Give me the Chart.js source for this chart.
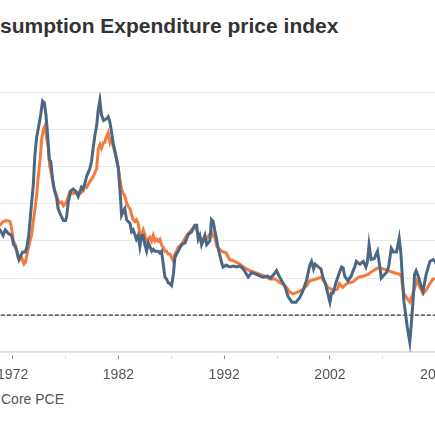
<!DOCTYPE html>
<html>
<head>
<meta charset="utf-8">
<script src="https://cdn.jsdelivr.net/npm/chart.js@4"></script>
<style>
  html, body { margin: 0; padding: 0; width: 435px; height: 435px; overflow: hidden; background: #fff; }
  body { position: relative; font-family: "Liberation Sans", Arial, sans-serif; }
  #title { position: absolute; left: 0; top: 15px; font-size: 21px; line-height: 21px; font-weight: bold; color: #333; white-space: nowrap; }
  #legend { position: absolute; left: 1px; top: 392px; font-size: 14px; line-height: 14px; color: #555; white-space: nowrap; }
  .before { position: absolute; right: 100%; top: 0; white-space: nowrap; }
  .swatch { display: inline-block; width: 18px; height: 3px; vertical-align: middle; margin: 0 6px 0 14px; }
  #wrap { position: absolute; left: -100px; top: 0; width: 635px; height: 435px; }
</style>
</head>
<body>
<div id="title"><span class="before">Personal Con</span>sumption Expenditure price index</div>
<div id="legend"><span class="before"><span class="swatch" style="background:#4b6784"></span>PCE<span class="swatch" style="background:#f47b3c"></span></span>Core PCE</div>
<div id="wrap"><canvas id="myChart"></canvas></div>
<script>
// year-over-year % change
const headlineYears = [1970.5, 1970.8, 1971.1, 1971.3, 1971.6, 1971.9, 1972.1, 1972.25, 1972.4, 1972.6, 1972.75, 1972.95,
  1973.2, 1973.35, 1973.5, 1973.64, 1973.8, 1973.95, 1974.1, 1974.27, 1974.5, 1974.65, 1974.83, 1975.0,
  1975.15, 1975.3, 1975.46, 1975.6, 1975.78, 1975.93, 1976.16, 1976.3, 1976.47, 1976.63, 1976.8, 1977.0,
  1977.1, 1977.26, 1977.5, 1977.73, 1978.0, 1978.2, 1978.35, 1978.5, 1978.65, 1978.83, 1979.0, 1979.15,
  1979.3, 1979.46, 1979.6, 1979.78, 1979.94, 1980.1, 1980.25, 1980.4, 1980.6, 1980.88, 1981.04, 1981.2,
  1981.36, 1981.5, 1981.67, 1981.83, 1982.0, 1982.14, 1982.3, 1982.45, 1982.6, 1982.77, 1982.93, 1983.1,
  1983.25, 1983.4, 1983.56, 1983.7, 1983.87, 1984.03, 1984.2, 1984.35, 1984.5, 1984.67, 1984.83, 1984.98,
  1985.15, 1985.3, 1985.45, 1985.6, 1985.76, 1985.92, 1986.08, 1986.24, 1986.4, 1986.55, 1986.7, 1986.87,
  1987.03, 1987.2, 1987.34, 1987.5, 1987.65, 1987.97, 1988.3, 1988.6, 1988.92, 1989.23, 1989.4, 1989.55,
  1989.7, 1989.86, 1990.18, 1990.35, 1990.65, 1990.8, 1990.96, 1991.1, 1991.25, 1991.4, 1991.75, 1991.9,
  1992.2, 1992.5, 1992.85, 1993.2, 1993.5, 1993.8, 1994.27, 1994.6, 1995.06, 1995.4, 1995.7, 1996.1,
  1996.4, 1996.7, 1996.95, 1997.2, 1997.6, 1997.8, 1998.05, 1998.4, 1998.8, 1999.15, 1999.47, 1999.8,
  2000.1, 2000.26, 2000.45, 2000.6, 2000.9, 2001.15, 2001.36, 2001.55, 2001.7, 2002.0, 2002.15, 2002.3,
  2002.45, 2002.6, 2002.9, 2003.1, 2003.25, 2003.4, 2003.7, 2004.0, 2004.2, 2004.35, 2004.5, 2004.7,
  2004.85, 2005.15, 2005.4, 2005.55, 2005.7, 2005.9, 2006.2, 2006.5, 2006.7, 2006.85, 2007.0, 2007.35,
  2007.55, 2007.8, 2008.0, 2008.3, 2008.55, 2008.7, 2008.9, 2009.0, 2009.15, 2009.3, 2009.55, 2009.7,
  2009.9, 2010.0, 2010.15, 2010.35, 2010.5, 2010.65, 2010.8, 2011.1, 2011.45, 2011.75, 2011.95, 2012.2];
const headlineValues = [4.7, 4.6, 4.3, 4.6, 4.4, 4.3, 3.8, 3.7, 3.45, 3.0, 3.2, 3.4,
  3.4, 3.7, 4.2, 5.05, 6.1, 7.0, 8.6, 9.6, 10.3, 10.8, 11.55, 11.45,
  10.8, 9.8, 8.4, 8.3, 7.35, 6.8, 6.3, 5.75, 5.5, 5.3, 5.1, 5.1,
  5.3, 6.1, 6.7, 6.8, 6.65, 6.4, 6.65, 6.9, 6.8, 7.1, 7.5, 7.7,
  7.9, 8.3, 8.95, 9.7, 10.2, 11.1, 11.6, 10.8, 10.5, 10.6, 10.7, 10.4,
  9.85, 9.3, 8.85, 8.4, 7.9, 6.8, 5.4, 5.6, 5.75, 5.15, 5.05, 4.95,
  4.5, 4.6, 4.35, 4.1, 4.3, 3.7, 4.3, 4.3, 3.8, 3.45, 3.9, 3.7,
  3.45, 3.55, 3.45, 3.45, 3.45, 3.35, 3.45, 2.75, 2.05, 1.95, 1.75, 1.7,
  1.6, 2.2, 3.1, 3.3, 3.45, 3.8, 3.9, 4.35, 4.5, 4.85, 4.85, 4.1,
  4.3, 3.8, 4.3, 3.8, 4.0, 5.15, 5.05, 4.6, 4.2, 3.7, 2.85, 2.6,
  2.7, 2.6, 2.65, 2.6, 2.65, 2.5, 2.05, 2.3, 2.2, 2.1, 2.05, 2.1,
  2.0, 2.2, 2.4, 2.1, 1.7, 1.45, 1.0, 0.7, 0.7, 0.95, 1.35, 1.9,
  2.7, 2.9, 2.5, 2.75, 2.6, 2.5, 2.0, 1.75, 1.4, 0.7, 1.2, 1.2,
  1.5, 1.8, 2.3, 2.6, 2.55, 2.1, 1.85, 2.1, 2.4, 2.6, 2.9, 2.8,
  2.75, 2.9, 2.6, 2.9, 3.8, 3.0, 3.05, 3.45, 2.7, 2.0, 2.1, 2.3,
  2.6, 3.6, 3.4, 3.4, 4.15, 3.4, 1.6, 0.7, 0.1, -0.6, -1.45, -0.45,
  1.1, 2.2, 2.4, 2.1, 1.8, 1.5, 1.3, 2.2, 2.9, 3.0, 2.9, 2.5];

const coreYears = [1970.5, 1970.8, 1971.1, 1971.4, 1971.75, 1971.9, 1972.06, 1972.25, 1972.4, 1972.5, 1972.65, 1972.85,
  1973.07, 1973.2, 1973.5, 1973.8, 1973.95, 1974.1, 1974.27, 1974.4, 1974.6, 1974.75, 1974.9, 1975.05,
  1975.2, 1975.4, 1975.5, 1975.7, 1975.85, 1976.0, 1976.16, 1976.3, 1976.47, 1976.63, 1976.8, 1976.95,
  1977.1, 1977.4, 1977.73, 1978.05, 1978.36, 1978.67, 1978.83, 1979.0, 1979.3, 1979.6, 1979.94, 1980.1,
  1980.25, 1980.4, 1980.57, 1980.7, 1980.88, 1981.04, 1981.2, 1981.36, 1981.5, 1981.67, 1981.83, 1982.0,
  1982.14, 1982.3, 1982.45, 1982.6, 1982.77, 1982.93, 1983.1, 1983.25, 1983.4, 1983.56, 1983.7, 1983.87,
  1984.03, 1984.2, 1984.35, 1984.5, 1984.67, 1984.8, 1984.98, 1985.14, 1985.3, 1985.45, 1985.6, 1985.76,
  1985.92, 1986.08, 1986.24, 1986.4, 1986.55, 1986.7, 1986.87, 1987.03, 1987.2, 1987.34, 1987.5, 1987.65,
  1987.97, 1988.3, 1988.6, 1988.92, 1989.23, 1989.4, 1989.55, 1989.86, 1990.18, 1990.5, 1990.8, 1990.96,
  1991.1, 1991.3, 1991.75, 1992.2, 1992.5, 1993.0, 1993.5, 1993.95, 1994.4, 1994.9, 1995.4, 1995.85,
  1996.3, 1996.8, 1997.3, 1997.75, 1998.2, 1998.5, 1999.0, 1999.5, 1999.8, 2000.1, 2000.7, 2001.2,
  2001.5, 2001.8, 2002.3, 2002.7, 2002.9, 2003.2, 2003.6, 2004.2, 2004.7, 2005.15, 2005.6, 2006.1,
  2006.55, 2007.0, 2007.5, 2008.0, 2008.6, 2008.75, 2008.95, 2009.3, 2009.55, 2009.9, 2010.2, 2010.4,
  2010.8, 2011.1, 2011.45, 2011.75, 2012.0];
const coreValues = [4.8, 4.85, 5.05, 5.1, 5.05, 4.7, 4.0, 3.8, 3.45, 3.1, 3.0, 3.1,
  2.75, 2.85, 3.65, 4.35, 5.05, 5.65, 6.45, 7.35, 8.4, 9.5, 10.0, 10.2,
  9.6, 8.95, 8.05, 7.5, 7.0, 6.7, 6.45, 6.2, 6.05, 6.1, 5.9, 6.0,
  6.1, 6.65, 6.55, 6.65, 6.55, 6.7, 7.0, 6.9, 7.2, 7.45, 7.9, 8.95,
  9.2, 9.0, 9.3, 9.3, 9.66, 9.85, 9.3, 9.5, 9.1, 8.8, 8.4, 7.9,
  7.35, 6.8, 6.55, 6.45, 6.05, 5.85, 5.75, 5.4, 5.15, 5.05, 5.15, 4.95,
  4.35, 4.35, 4.6, 4.35, 3.8, 4.1, 4.2, 4.0, 4.3, 4.0, 4.1, 4.0,
  4.1, 3.8, 3.65, 3.45, 3.45, 3.3, 3.3, 3.1, 2.9, 3.3, 3.45, 3.65,
  3.8, 4.15, 4.4, 4.6, 4.8, 4.6, 4.35, 4.1, 4.0, 4.25, 4.5, 4.25,
  4.25, 3.7, 3.45, 3.35, 3.0, 2.9, 2.75, 2.55, 2.4, 2.3, 2.2, 2.1,
  1.95, 1.95, 1.75, 1.6, 1.25, 1.15, 1.25, 1.4, 1.6, 1.85, 1.95, 2.05,
  1.75, 1.5, 1.35, 1.4, 1.7, 1.5, 1.7, 1.8, 2.05, 2.1, 2.2, 2.4,
  2.55, 2.5, 2.4, 2.3, 2.2, 2.1, 1.2, 0.9, 0.7, 1.25, 1.85, 1.65,
  1.15, 1.35, 1.7, 1.95, 1.95];

const zeroYears = [1955, 2025];
const zeroValues = [0, 0];

const tickYears = [1967, 1972, 1977, 1982, 1987, 1992, 1997, 2002, 2007, 2012, 2017];
const labelYears = [1972, 1982, 1992, 2002, 2012];

const toPoints = (xs, ys) => xs.map((x, i) => ({ x: x, y: ys[i] }));

const ctx = document.getElementById('myChart');
const myChart = new Chart(ctx, {
  type: 'line',
  data: {
    datasets: [
      {
        label: 'PCE',
        data: toPoints(headlineYears, headlineValues),
        borderColor: '#4b6784',
        borderWidth: 3,
        pointRadius: 0,
        tension: 0
      },
      {
        label: 'Core PCE',
        data: toPoints(coreYears, coreValues),
        borderColor: '#f47b3c',
        borderWidth: 3,
        pointRadius: 0,
        tension: 0
      },
      {
        label: 'zero',
        data: toPoints(zeroYears, zeroValues),
        borderColor: '#333',
        borderWidth: 1.3,
        borderDash: [4, 2],
        pointRadius: 0
      }
    ]
  },
  options: {
    responsive: true,
    maintainAspectRatio: false,
    animation: false,
    layout: { padding: { top: 92.7, bottom: 43, left: 0, right: 0 } },
    plugins: { legend: { display: false }, tooltip: { enabled: false } },
    scales: {
      x: {
        type: 'linear',
        min: 1961.35,
        max: 2021.39,
        afterBuildTicks: scale => {
          scale.ticks = tickYears.map(v => ({ value: v }));
        },
        ticks: {
          autoSkip: false,
          maxRotation: 0,
          padding: 8,
          color: '#555',
          font: { family: '"Liberation Sans", Arial, sans-serif', size: 14 },
          callback: value => (labelYears.includes(value) ? String(value) : '')
        },
        grid: {
          drawOnChartArea: false,
          drawTicks: true,
          tickLength: 7,
          tickColor: c => (labelYears.includes(c.tick && c.tick.value) ? '#888' : '#bbb'),
          tickBorderDash: c => (labelYears.includes(c.tick && c.tick.value) ? [0, 3, 4, 20] : [0, 4, 1.5, 20])
        },
        border: { display: true, color: '#e0e0e0', width: 1.5 }
      },
      y: {
        min: -2,
        max: 12,
        ticks: { display: false, stepSize: 2 },
        grid: { color: '#e8e8e8', lineWidth: 1, drawTicks: false },
        border: { display: false }
      }
    }
  }
});
</script>
</body>
</html>
